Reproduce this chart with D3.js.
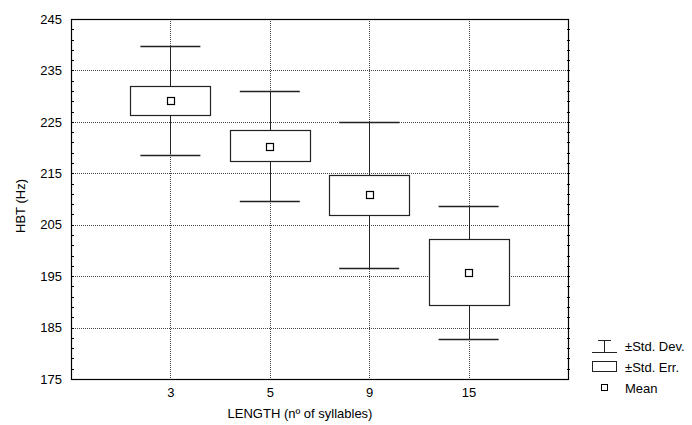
<!DOCTYPE html>
<html>
<head>
<meta charset="utf-8">
<script src="https://cdn.jsdelivr.net/npm/d3@7"></script>
<style>
  body { margin: 0; background: #fff; }
  text { font-family: "Liberation Sans", Arial, sans-serif; }
</style>
</head>
<body>
<div id="chart"></div>
<script>
// chart data
var categories = ["3", "5", "9", "15"];
var means = [229.2, 220.3, 210.8, 195.7];
var stdErr = [2.8, 3.05, 3.9, 6.45];
var stdDev = [10.55, 10.75, 14.15, 13.0];
var yTicks = [175, 185, 195, 205, 215, 225, 235, 245];

var width = 692, height = 425;
var plot = {left: 71, top: 19, right: 568, bottom: 379};
var fontSize = "13px";

var svg = d3.select("#chart").append("svg")
    .attr("width", width)
    .attr("height", height);

var x = d3.scalePoint()
    .domain(categories)
    .range([plot.left, plot.right])
    .padding(1);

var y = d3.scaleLinear()
    .domain([175, 245])
    .range([plot.bottom, plot.top]);

// dotted grid
svg.append("g").selectAll("line.gy")
    .data(yTicks.slice(1, -1))
    .enter().append("line")
    .attr("x1", plot.left).attr("x2", plot.right)
    .attr("y1", function(d) { return Math.round(y(d)) + 0.5; })
    .attr("y2", function(d) { return Math.round(y(d)) + 0.5; })
    .attr("stroke", "#444")
    .attr("stroke-width", 1)
    .attr("stroke-dasharray", "1,1");

svg.append("g").selectAll("line.gx")
    .data(categories)
    .enter().append("line")
    .attr("x1", function(d) { return Math.round(x(d)) + 0.5; })
    .attr("x2", function(d) { return Math.round(x(d)) + 0.5; })
    .attr("y1", plot.top).attr("y2", plot.bottom)
    .attr("stroke", "#444")
    .attr("stroke-width", 1)
    .attr("stroke-dasharray", "1,1");

// axes
var yAxis = d3.axisLeft(y).tickValues(yTicks).tickSize(0).tickPadding(9);
var gy = svg.append("g")
    .attr("transform", "translate(" + plot.left + ",0)")
    .call(yAxis);
gy.select(".domain").remove();
gy.selectAll("text").style("font-size", fontSize).attr("fill", "#000");

var xAxis = d3.axisBottom(x).tickSize(0).tickPadding(9);
var gx = svg.append("g")
    .attr("transform", "translate(0," + plot.bottom + ")")
    .call(xAxis);
gx.select(".domain").remove();
gx.selectAll("text").style("font-size", fontSize).attr("fill", "#000");

// minor ticks every 2 units on left and right sides
var minor = d3.range(177, 245, 2);
svg.append("g").selectAll("line")
    .data(minor)
    .enter().append("line")
    .attr("x1", plot.left).attr("x2", plot.left + 3)
    .attr("y1", function(d) { return Math.round(y(d)) + 0.5; })
    .attr("y2", function(d) { return Math.round(y(d)) + 0.5; })
    .attr("stroke", "#000");
svg.append("g").selectAll("line")
    .data(minor)
    .enter().append("line")
    .attr("x1", plot.right - 1).attr("x2", plot.right + 2)
    .attr("y1", function(d) { return Math.round(y(d)) + 0.5; })
    .attr("y2", function(d) { return Math.round(y(d)) + 0.5; })
    .attr("stroke", "#000");

// frame
svg.append("rect")
    .attr("x", plot.left + 0.5)
    .attr("y", plot.top + 0.5)
    .attr("width", plot.right - plot.left)
    .attr("height", plot.bottom - plot.top)
    .attr("fill", "none")
    .attr("stroke", "#000")
    .attr("stroke-width", 1.2);

// boxes and whiskers
var boxHalf = 40, capHalf = 30, dot = 7;
var groups = svg.append("g").selectAll("g")
    .data(categories)
    .enter().append("g");

groups.append("line")
    .attr("x1", function(d) { return Math.round(x(d)) + 0.5; })
    .attr("x2", function(d) { return Math.round(x(d)) + 0.5; })
    .attr("y1", function(d, i) { return y(means[i] + stdDev[i]); })
    .attr("y2", function(d, i) { return y(means[i] - stdDev[i]); })
    .attr("stroke", "#222");

groups.selectAll("line.cap")
    .data(function(d, i) { return [{c: d, v: means[i] + stdDev[i]}, {c: d, v: means[i] - stdDev[i]}]; })
    .enter().append("line")
    .attr("class", "cap")
    .attr("x1", function(d) { return x(d.c) - capHalf; })
    .attr("x2", function(d) { return x(d.c) + capHalf; })
    .attr("y1", function(d) { return Math.round(y(d.v)) + 0.5; })
    .attr("y2", function(d) { return Math.round(y(d.v)) + 0.5; })
    .attr("stroke", "#222")
    .attr("stroke-width", 1.3);

groups.append("rect")
    .attr("x", function(d) { return Math.round(x(d) - boxHalf) + 0.5; })
    .attr("y", function(d, i) { return Math.round(y(means[i] + stdErr[i])) + 0.5; })
    .attr("width", boxHalf * 2)
    .attr("height", function(d, i) { return Math.round(y(means[i] - stdErr[i]) - y(means[i] + stdErr[i])); })
    .attr("fill", "#fff")
    .attr("stroke", "#222")
    .attr("stroke-width", 1.2);

groups.append("rect")
    .attr("x", function(d) { return Math.round(x(d) - dot / 2) + 0.5; })
    .attr("y", function(d, i) { return Math.round(y(means[i]) - dot / 2) + 0.5; })
    .attr("width", dot)
    .attr("height", dot)
    .attr("fill", "#fff")
    .attr("stroke", "#000")
    .attr("stroke-width", 1.2);

// axis titles
svg.append("text")
    .attr("x", 300)
    .attr("y", 418)
    .attr("text-anchor", "middle")
    .style("font-size", fontSize)
    .text("LENGTH (nº of syllables)");

svg.append("text")
    .attr("transform", "translate(25,206) rotate(-90)")
    .attr("text-anchor", "middle")
    .style("font-size", fontSize)
    .text("HBT (Hz)");

// legend
var legend = svg.append("g");
legend.append("line").attr("x1", 598).attr("x2", 611).attr("y1", 340.5).attr("y2", 340.5).attr("stroke", "#222");
legend.append("line").attr("x1", 604.5).attr("x2", 604.5).attr("y1", 340.5).attr("y2", 352.5).attr("stroke", "#222");
legend.append("line").attr("x1", 592).attr("x2", 617).attr("y1", 352.5).attr("y2", 352.5).attr("stroke", "#222");
legend.append("rect").attr("x", 592.5).attr("y", 361.5).attr("width", 24).attr("height", 10)
    .attr("fill", "#fff").attr("stroke", "#222");
legend.append("rect").attr("x", 601.5).attr("y", 384.5).attr("width", 6).attr("height", 6)
    .attr("fill", "#fff").attr("stroke", "#000");

var legendLabels = ["±Std. Dev.", "±Std. Err.", "Mean"];
legend.selectAll("text")
    .data(legendLabels)
    .enter().append("text")
    .attr("x", 625)
    .attr("y", function(d, i) { return 351 + i * 21; })
    .style("font-size", fontSize)
    .text(function(d) { return d; });
</script>
</body>
</html>
